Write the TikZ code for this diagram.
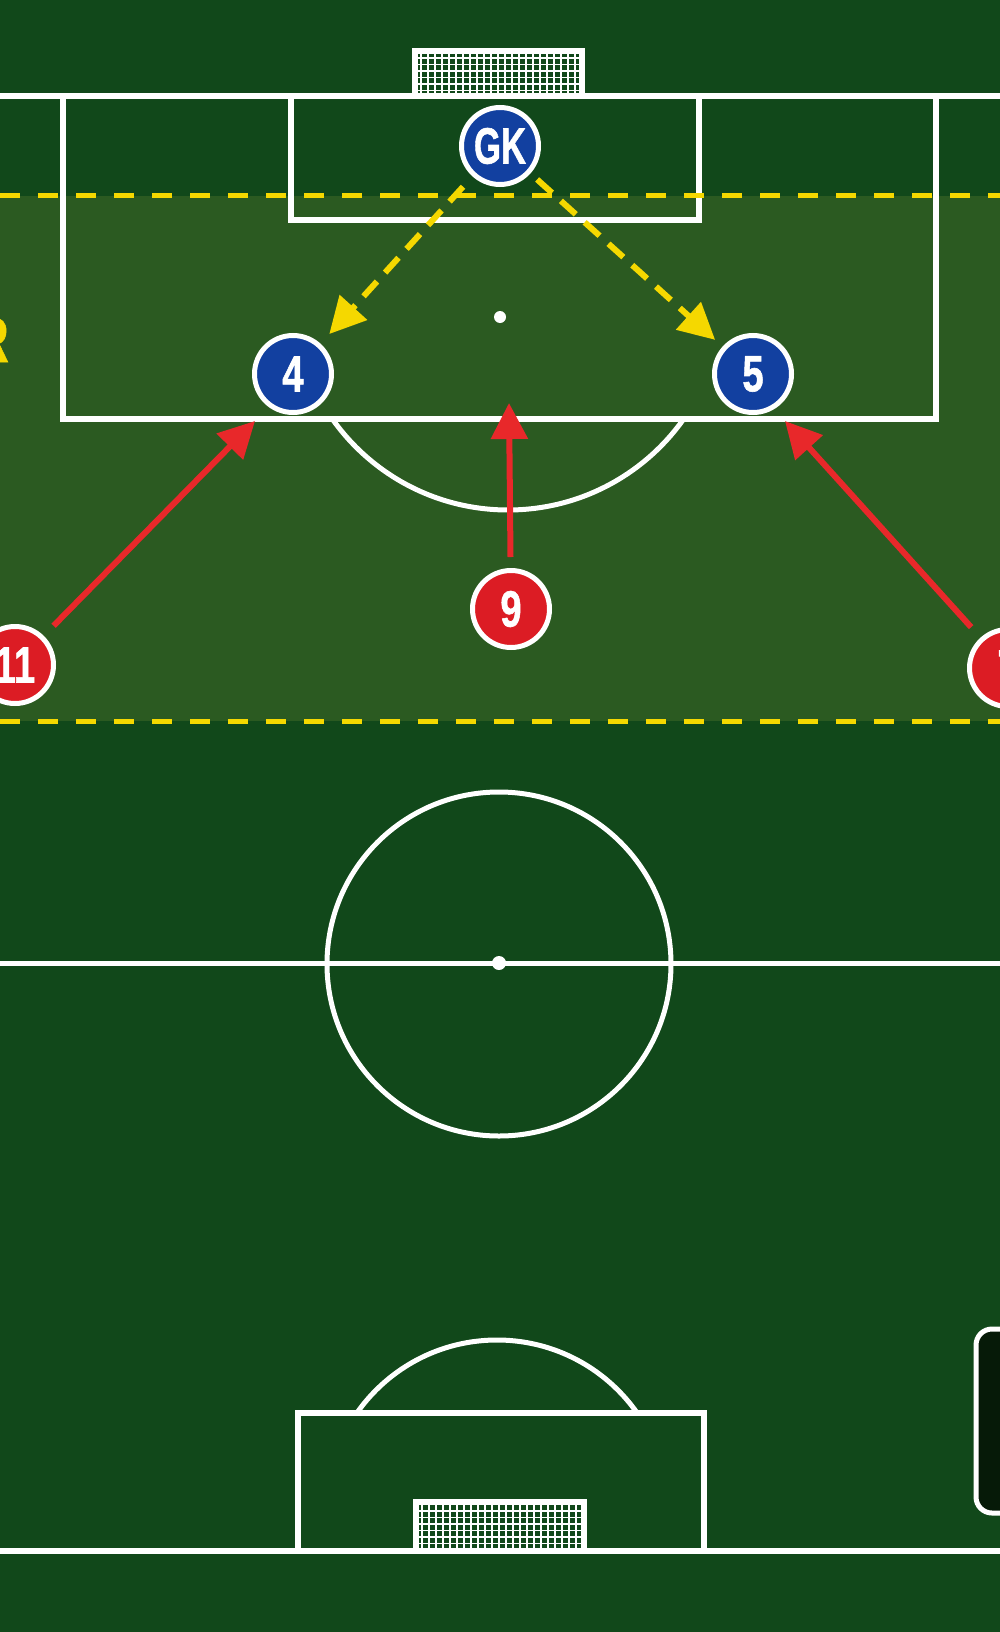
\documentclass[tikz,border=0pt]{standalone}
\usepackage{fontspec}
\setmainfont{Liberation Sans}
\newfontfamily\numfont{Liberation Sans Bold}[FakeBold=1.2]
\usetikzlibrary{arrows.meta}
\definecolor{pitch}{HTML}{11481A}
\definecolor{zone}{HTML}{2B5A21}
\definecolor{pblue}{HTML}{1240A0}
\definecolor{pred}{HTML}{DC1C24}
\definecolor{ylw}{HTML}{F5D800}
\definecolor{redarrow}{HTML}{E8282A}
\definecolor{boxfill}{HTML}{061A08}
\newcommand\plab[2][0.75]{\scalebox{#1}[1]{\fontsize{51}{51}\numfont\bfseries #2}}
\begin{document}
\begin{tikzpicture}[x=1pt,y=-1pt,
 pline/.style={draw=white,line width=6pt},
 thinline/.style={draw=white,line width=5pt},
 player/.style={circle,draw=white,line width=5pt,minimum size=77pt,inner sep=0pt,text=white},
 def/.style={player,fill=pblue},
 att/.style={player,fill=pred},
 pass/.style={draw=ylw,line width=6pt,dash pattern=on 20pt off 12pt,-{Triangle[length=36pt,width=36pt]}},
 run/.style={draw=redarrow,line width=6pt,-{Triangle[length=36pt,width=36pt]}},
 zoneline/.style={draw=ylw,line width=5pt,dash pattern=on 20pt off 18pt},
 netline/.style={draw=white,line width=1.4pt}]
\useasboundingbox (0,0) rectangle (1000,1632);
\clip (0,0) rectangle (1000,1632);
% background
\fill[pitch] (0,0) rectangle (1000,1632);
\fill[zone] (0,196) rectangle (1000,721);
% top end
\draw[pline] (0,96) -- (1000,96);
\draw[pline] (63,96) -- (63,419) -- (936,419) -- (936,96);
\draw[pline] (291,96) -- (291,220) -- (699,220) -- (699,96);
\fill[white] (500,317) circle[radius=6];
\begin{scope}
 \clip (0,422) rectangle (1000,700);
 \draw[thinline] (508,295) circle[radius=215];
\end{scope}
% top goal
\foreach \x in {421,428,...,578} \draw[netline] (\x,54) -- (\x,93);
\foreach \y in {58,64.5,...,92} \draw[netline] (418,\y) -- (580,\y);
\draw[pline] (415,96) -- (415,51) -- (582,51) -- (582,96);
% zone lines
\draw[zoneline] (0,196) -- (1000,196);
\draw[zoneline] (0,721) -- (1000,721);
% halfway
\draw[thinline] (0,963) -- (1000,963);
\draw[thinline] (499,964) circle[radius=172];
\fill[white] (499,963) circle[radius=7];
% bottom end
\draw[pline] (0,1551) -- (1000,1551);
\draw[pline] (298,1551) -- (298,1413) -- (704,1413) -- (704,1551);
\begin{scope}
 \clip (0,1200) rectangle (1000,1410);
 \draw[thinline] (497,1511) circle[radius=171];
\end{scope}
\foreach \x in {422,429,...,580} \draw[netline] (\x,1505) -- (\x,1548);
\foreach \y in {1511,1517.5,...,1548} \draw[netline] (419,\y) -- (581,\y);
\draw[pline] (416,1551) -- (416,1502) -- (584,1502) -- (584,1551);
% side panel
\draw[white,line width=5pt,fill=boxfill,rounded corners=16pt] (976,1329) rectangle (1040,1513);
% label fragment
\node[anchor=east,text=ylw,inner sep=0pt] (lbl) at (9,340) {\scalebox{0.75}[1]{\fontsize{64}{64}\numfont\bfseries R}};
% players
\node[def] (gk) at (500,146) {\plab[0.68]{GK}};
\node[def] (d4) at (293,374) {\plab{4}};
\node[def] (d5) at (753,374) {\plab{5}};
\node[att] (a9) at (511,609) {\plab{9}};
\node[att] (a11) at (15,665) {\plab{11}};
\node[att] (a7) at (1008,668) {\plab{7}};
% targets
\coordinate (t4) at (255,421);
\coordinate (t9) at (509,403);
\coordinate (t5) at (785,421);
% passes
\draw[pass,shorten <=14pt,shorten >=13pt] (gk) -- (d4);
\draw[pass,shorten <=9pt,shorten >=10pt] (gk) -- (d5);
% runs
\draw[run,shorten <=14pt] (a11) -- (t4);
\draw[run,shorten <=11pt] (a9) -- (t9);
\draw[run,shorten <=14pt] (a7) -- (t5);
\end{tikzpicture}
\end{document}
